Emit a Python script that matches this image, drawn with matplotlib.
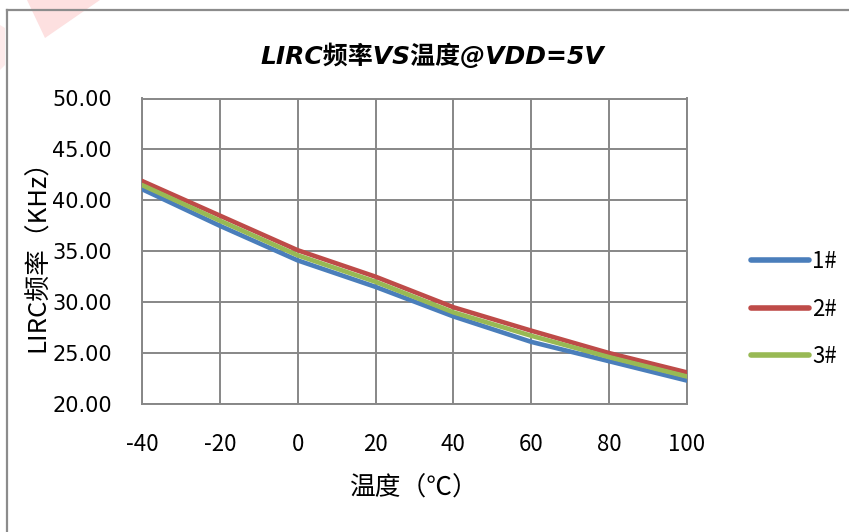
import matplotlib.pyplot as plt
from matplotlib.lines import Line2D
from matplotlib.patches import Polygon

plt.rcParams['font.family'] = ['Noto Sans CJK SC', 'DejaVu Sans']

# data
temps = [-40, -20, 0, 20, 40, 60, 80, 100]
freq_1 = [41.1, 37.5, 34.1, 31.5, 28.6, 26.1, 24.2, 22.3]
freq_2 = [41.9, 38.5, 35.1, 32.5, 29.5, 27.2, 25.0, 23.1]
freq_3 = [41.5, 38.0, 34.6, 32.0, 29.0, 26.7, 24.6, 22.7]
series_names = ["1#", "2#", "3#"]
series_colors = ["#4a7ebb", "#be4b48", "#98b954"]
x_ticks = [-40, -20, 0, 20, 40, 60, 80, 100]
y_ticks = [20, 25, 30, 35, 40, 45, 50]

W, H = 849, 532
fig = plt.figure(figsize=(W / 100, H / 100), dpi=100)

# faint pink watermark remnant at top left
fig.patches.append(Polygon([(27 / W, 1), (100 / W, 1), (45 / W, 1 - 38 / H)],
                           closed=True, transform=fig.transFigure,
                           facecolor="#fde0e0", edgecolor="none", zorder=0))
fig.patches.append(Polygon([(0, 1 - 25 / H), (5 / W, 1 - 28 / H), (5 / W, 1 - 65 / H), (0, 1 - 70 / H)],
                           closed=True, transform=fig.transFigure,
                           facecolor="#fdeaea", edgecolor="none", zorder=0))

# chart area border (runs off the right and bottom edges)
fig.lines.append(Line2D([7 / W, 1.0], [1 - 10 / H, 1 - 10 / H], transform=fig.transFigure,
                        color="#8c8c8c", lw=1.6))
fig.lines.append(Line2D([7 / W, 7 / W], [1 - 10 / H, 0.0], transform=fig.transFigure,
                        color="#8c8c8c", lw=1.6))

ax = fig.add_axes([142 / W, 1 - 404 / H, 545 / W, 305.5 / H])

for vals, name, col in zip([freq_1, freq_2, freq_3], series_names, series_colors):
    ax.plot(temps, vals, color=col, lw=3.3, label=name, solid_capstyle='round', zorder=3)

ax.set_xlim(-40, 100)
ax.set_ylim(20, 50)
ax.set_xticks(x_ticks)
ax.set_yticks(y_ticks)
ax.set_yticklabels(["%.2f" % v for v in y_ticks], family=['DejaVu Sans'], fontsize=15)
ax.set_xticklabels([str(v) for v in x_ticks], fontsize=16)
ax.tick_params(length=0)
ax.tick_params(axis='x', pad=21)
ax.tick_params(axis='y', pad=21.6)

ax.grid(True, color="#878787", lw=1.4)
ax.set_axisbelow(True)
for s in ax.spines.values():
    s.set_color("#878787")
    s.set_linewidth(1.4)

fig.text(432 / W, 1 - 56 / H, "LIRC频率VS温度@VDD=5V", fontsize=18, fontweight='bold',
         style='italic', family=['DejaVu Sans', 'Noto Sans CJK SC'], ha='center', va='center')
ax.set_xlabel("温度（℃）", fontsize=18.5, va='center')
ax.xaxis.set_label_coords(0.5, (404 - 489) / 305.5)
ax.set_ylabel("LIRC频率（KHz）", fontsize=18.5, va='center')
ax.yaxis.set_label_coords((38 - 142) / 545, 0.505)

leg = fig.legend(loc='center left', bbox_to_anchor=(731 / W, 1 - 309 / H),
                 frameon=False, fontsize=16, handlelength=2.6, labelspacing=1.1,
                 handletextpad=0.15)
for ln in leg.get_lines():
    ln.set_linewidth(4)

fig.savefig("out.png", dpi=100)
